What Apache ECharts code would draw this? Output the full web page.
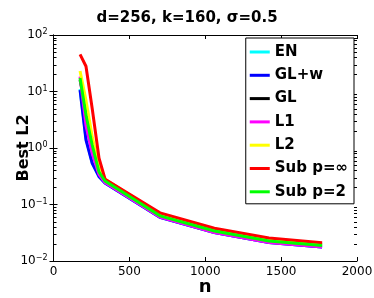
<!DOCTYPE html>
<html>
<head>
<meta charset="utf-8">
<script src="https://cdn.jsdelivr.net/npm/echarts@6/dist/echarts.min.js"></script>
<style>
html,body{margin:0;padding:0;background:#fff;}
#chart{width:374px;height:298px;}
</style>
</head>
<body>
<div id="chart"></div>
<script>
const nValues = [175, 214, 255, 300, 340, 702, 1060, 1420, 1770];
const seriesNames = ['EN', 'GL+w', 'GL', 'L1', 'L2', 'Sub p=\u221e', 'Sub p=2'];
const EN      = [11,   1.5,  0.55, 0.31,  0.24,  0.059, 0.032, 0.0212, 0.0177];
const GLw     = [10.6, 1.39, 0.54, 0.31,  0.24,  0.059, 0.032, 0.0212, 0.0177];
const GL      = [16,   5,    1.4,  0.42,  0.275, 0.066, 0.036, 0.024,  0.0197];
const L1      = [18.3, 2.5,  0.8,  0.34,  0.245, 0.060, 0.032, 0.0213, 0.0177];
const L2      = [23,   7,    1.6,  0.45,  0.28,  0.067, 0.036, 0.024,  0.0198];
const SubInf  = [45.5, 28,   5,    0.66,  0.28,  0.071, 0.038, 0.0255, 0.021];
const Sub2    = [17.3, 3.8,  1.13, 0.376, 0.26,  0.063, 0.034, 0.0226, 0.0188];
const xTicks = [0, 500, 1000, 1500, 2000];
const yDecades = [0.01, 0.1, 1, 10, 100];
const minorMultipliers = [2, 3, 4, 5, 6, 7, 8, 9];
const titleText = 'd=256, k=160, \u03c3=0.5';
const xName = 'n';
const yName = 'Best L2';

const colors = ['#00ffff', '#0000ff', '#000000', '#ff00ff', '#ffff00', '#ff0000', '#00ff00'];
const allData = [EN, GLw, GL, L1, L2, SubInf, Sub2];
const FONT = 'DejaVu Sans';

const chart = echarts.init(document.getElementById('chart'), null, {renderer: 'canvas'});

function yLabel(v) {
  const e = Math.round(Math.log10(v));
  const s = String(e).replace('-', '\u2212');
  return '{b|10}{s|' + s + '}';
}

// minor tick values of the log axis (axis structure, 2..9 x each decade)
const minorTickValues = [];
for (let d = 0; d < yDecades.length - 1; d++) {
  for (const m of minorMultipliers) minorTickValues.push(+(m * yDecades[d]).toPrecision(3));
}
const xMin = xTicks[0], xMax = xTicks[xTicks.length - 1];

const common = {
  axisLine: {show: true, lineStyle: {color: '#000', width: 1}},
  splitLine: {show: false}
};

const lineSeries = seriesNames.map((name, i) => ({
  name: name,
  type: 'line',
  xAxisIndex: 0,
  yAxisIndex: 0,
  symbol: 'none',
  smooth: false,
  color: colors[i],
  lineStyle: {width: 3, color: colors[i], cap: 'butt', join: 'miter'},
  data: nValues.map((n, j) => [n, allData[i][j]]),
  z: 2 + i
}));

const minorTickSeries = {
  name: 'minorTicks',
  type: 'custom',
  silent: true,
  xAxisIndex: 0,
  yAxisIndex: 0,
  z: 20,
  clip: false,
  data: minorTickValues.map(v => [xMin, v]),
  renderItem: function (params, api) {
    const v = api.value(1);
    const pl = api.coord([xMin, v]);
    const pr = api.coord([xMax, v]);
    const y = Math.round(pl[1]) + 0.5;
    const st = {stroke: '#000', lineWidth: 1};
    return {
      type: 'group',
      children: [
        {type: 'line', shape: {x1: pl[0], y1: y, x2: pl[0] + 3, y2: y}, style: st},
        {type: 'line', shape: {x1: pr[0], y1: y, x2: pr[0] - 3, y2: y}, style: st}
      ]
    };
  }
};

const option = {
  animation: false,
  backgroundColor: '#fff',
  title: {
    text: titleText,
    left: 'center',
    top: 6,
    textStyle: {fontFamily: FONT, fontWeight: 'bold', fontSize: 15, color: '#000'}
  },
  grid: {left: 53.5, right: 17, top: 35, bottom: 37, containLabel: false, outerBoundsMode: 'none'},
  legend: {
    orient: 'vertical',
    right: 20,
    top: 38,
    align: 'left',
    icon: 'rect',
    itemWidth: 20,
    itemHeight: 3,
    itemGap: 5.3,
    padding: [5, 6, 3, 4],
    backgroundColor: '#fff',
    borderColor: '#000',
    borderWidth: 1,
    borderRadius: 0,
    textStyle: {fontFamily: FONT, fontWeight: 'bold', fontSize: 15, lineHeight: 18, color: '#000'},
    data: seriesNames
  },
  xAxis: [
    Object.assign({}, common, {
      type: 'value', min: xMin, max: xMax, interval: 500,
      position: 'bottom',
      name: xName, nameLocation: 'middle', nameGap: 17, nameMoveOverlap: false,
      nameTextStyle: {fontFamily: FONT, fontWeight: 'bold', fontSize: 18, color: '#000'},
      axisTick: {show: true, inside: true, length: 4, lineStyle: {color: '#000'}},
      axisLabel: {fontFamily: FONT, fontSize: 12, color: '#000', margin: 5, formatter: v => String(v)}
    }),
    Object.assign({}, common, {
      type: 'value', min: xMin, max: xMax, interval: 500,
      position: 'top',
      axisTick: {show: true, inside: true, length: 4, lineStyle: {color: '#000'}},
      axisLabel: {show: false}
    })
  ],
  yAxis: [
    Object.assign({}, common, {
      type: 'log', logBase: 10, min: yDecades[0], max: yDecades[yDecades.length - 1],
      position: 'left',
      name: yName, nameLocation: 'middle', nameGap: 22, nameMoveOverlap: false,
      nameTextStyle: {fontFamily: FONT, fontWeight: 'bold', fontSize: 16, color: '#000'},
      axisTick: {show: true, inside: true, length: 4, lineStyle: {color: '#000'}},
      axisLabel: {
        margin: 6, color: '#000',
        formatter: yLabel,
        rich: {
          b: {fontFamily: FONT, fontSize: 12, color: '#000', lineHeight: 14},
          s: {fontFamily: FONT, fontSize: 8, color: '#000', verticalAlign: 'top', lineHeight: 14, padding: [0, 0, 6, 0]}
        }
      }
    }),
    Object.assign({}, common, {
      type: 'log', logBase: 10, min: yDecades[0], max: yDecades[yDecades.length - 1],
      position: 'right',
      axisTick: {show: true, inside: true, length: 4, lineStyle: {color: '#000'}},
      axisLabel: {show: false}
    })
  ],
  series: lineSeries.concat([minorTickSeries])
};
chart.setOption(option);
</script>
</body>
</html>
